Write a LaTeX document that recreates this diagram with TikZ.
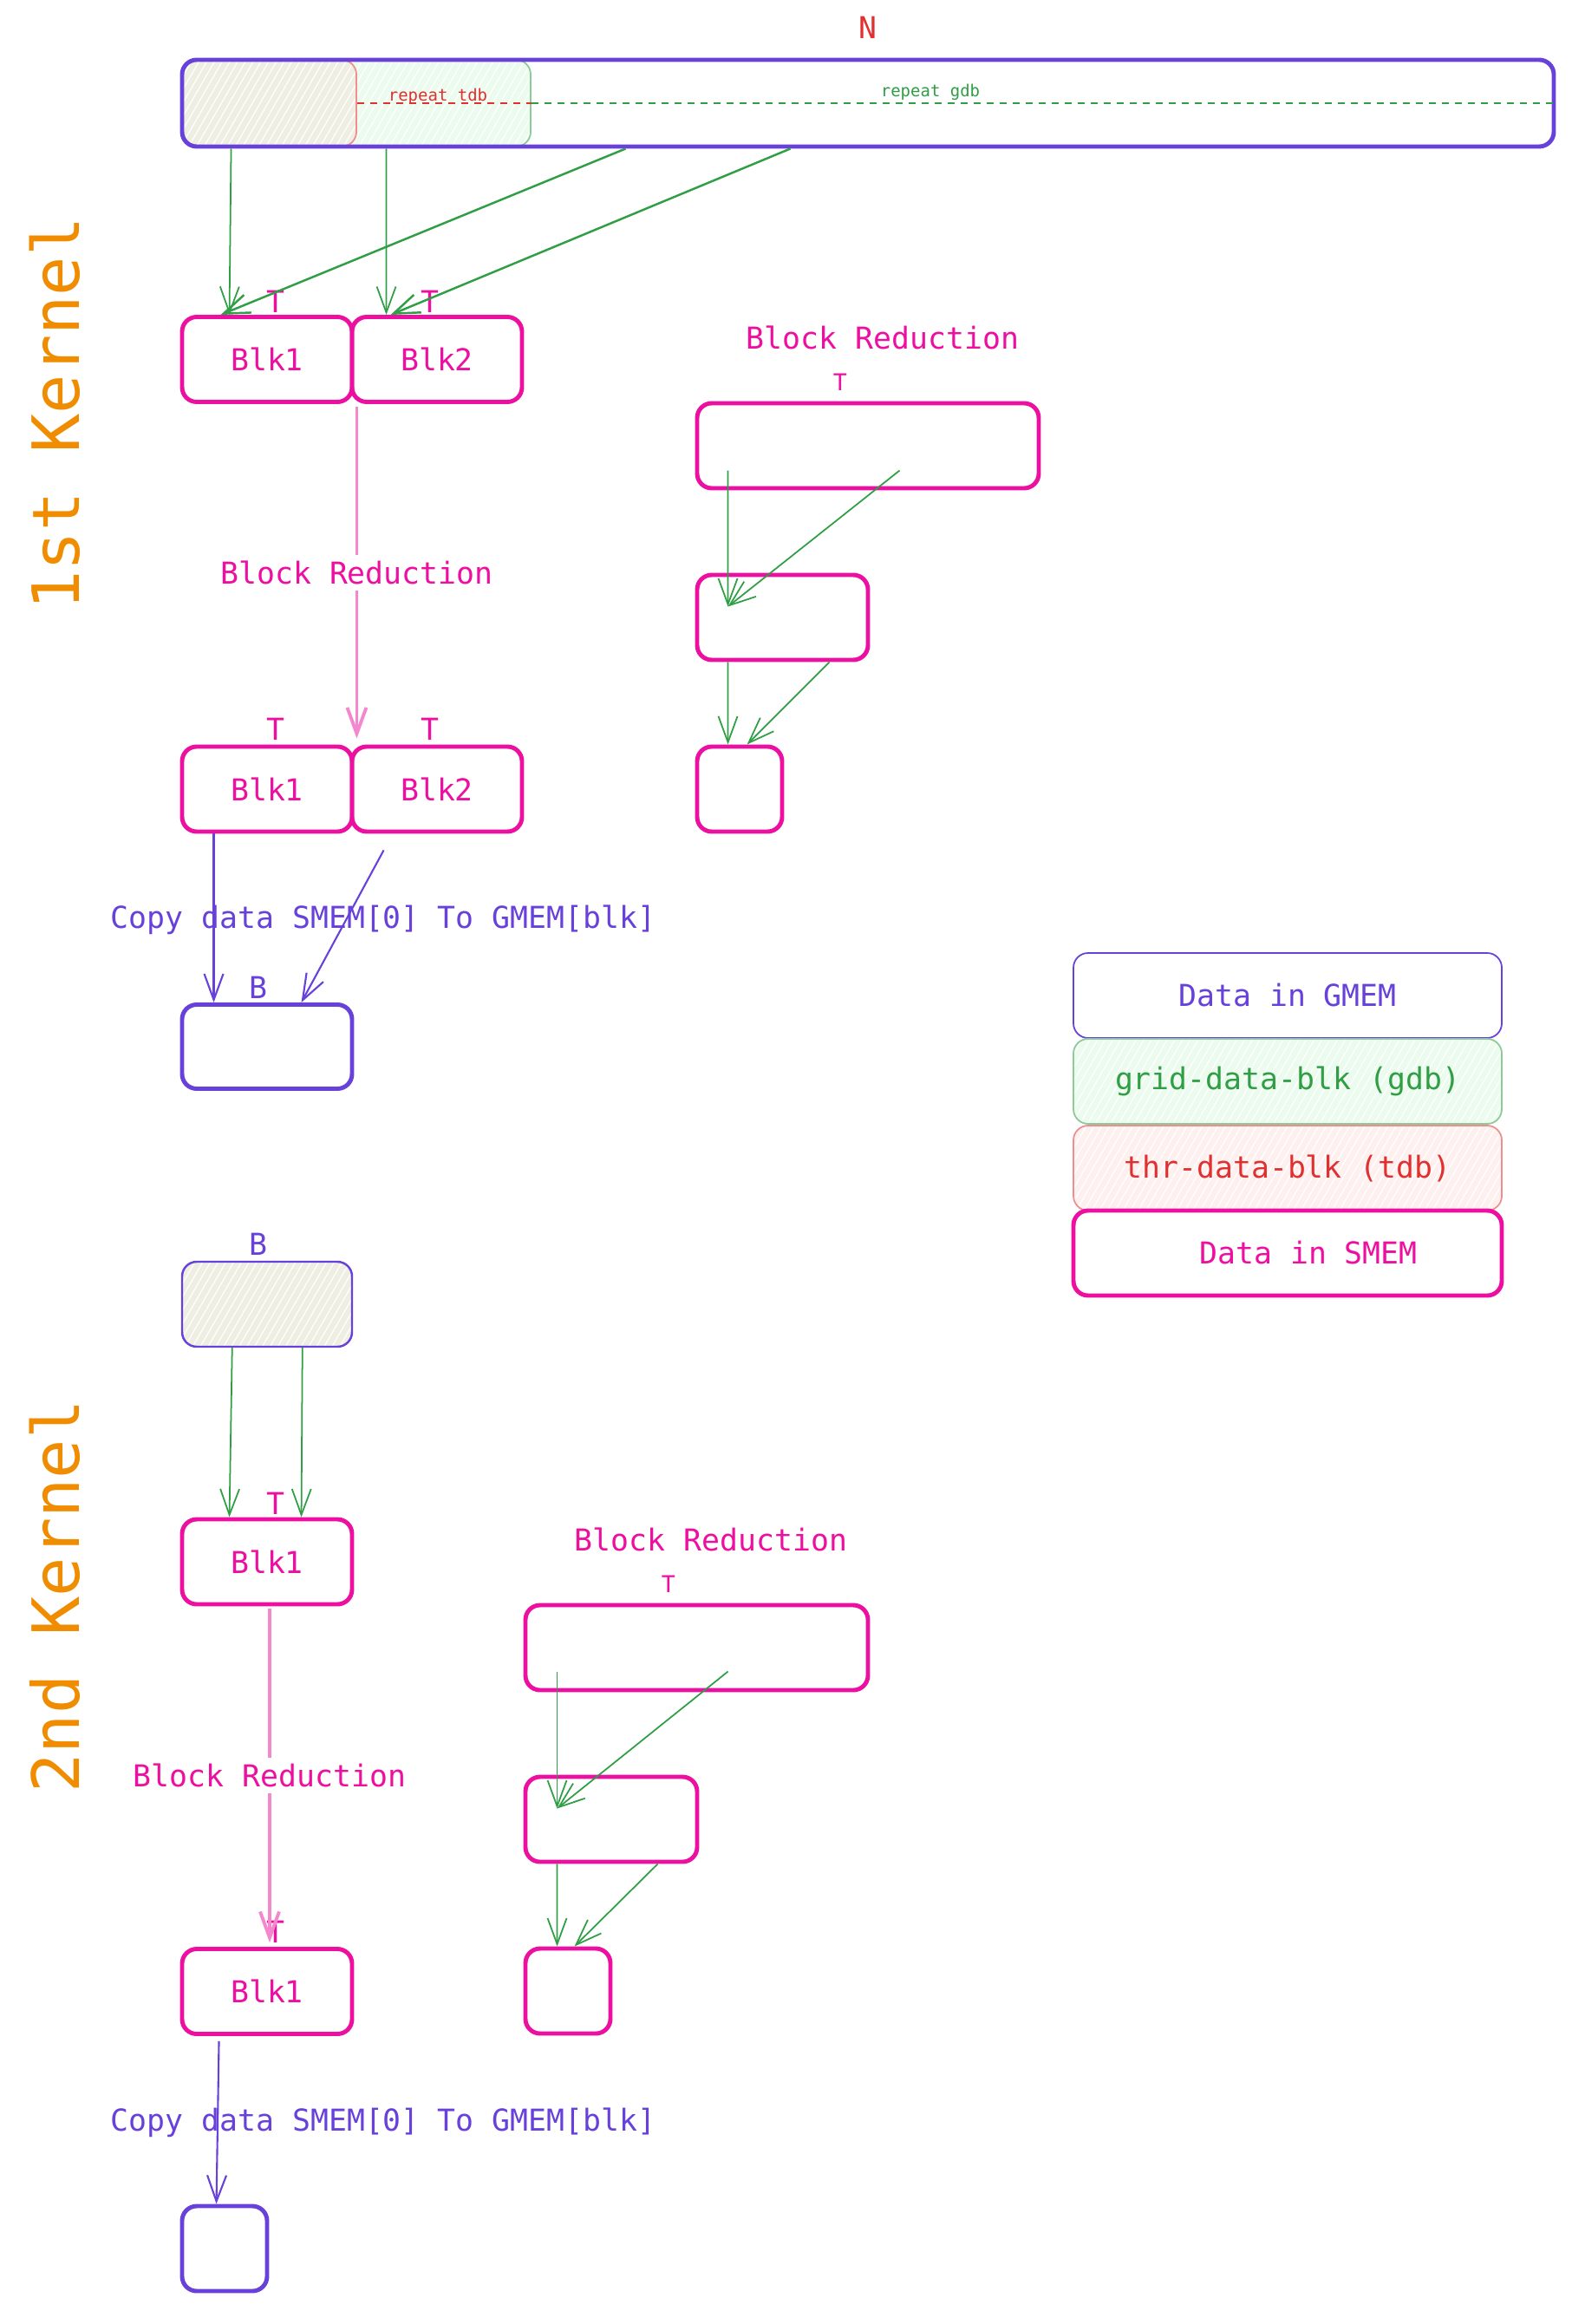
\documentclass[tikz,border=0pt]{standalone}
\usepackage{fontspec}
\setmainfont{DejaVu Sans Mono}
\usetikzlibrary{arrows.meta,positioning,calc,patterns.meta}

\definecolor{gmemc}{HTML}{6741D9}
\definecolor{smemc}{HTML}{EC0FA0}
\definecolor{grnc}{HTML}{2F9E44}
\definecolor{redc}{HTML}{E03131}
\definecolor{orangec}{HTML}{F08C00}
\definecolor{gdbfill}{HTML}{EBFBEE}
\definecolor{tdbfill}{HTML}{FFF0F0}
\definecolor{srcfill}{HTML}{EFEEE3}

\newcommand{\lblfont}{\fontsize{9.9}{12}\selectfont}
\newcommand{\smallfont}{\fontsize{5.4}{7}\selectfont}
\newcommand{\tfont}{\fontsize{7.6}{9}\selectfont}
\newcommand{\kernfont}{\fontsize{21.4}{24}\selectfont}

\tikzset{
  box/.style={rounded corners=4.8pt, minimum height=0.98cm, inner sep=0pt},
  smemblk/.style={box, draw=smemc, line width=1.4pt, text=smemc},
  gmemblk/.style={box, draw=gmemc, line width=1.4pt, text=gmemc},
  hatch/.style={preaction={fill=#1}, preaction={pattern={Lines[angle=60,distance=2.2pt,line width=0.35pt]}, pattern color=white}},
  gdbblk/.style={box, draw=grnc!55, line width=0.5pt, hatch=gdbfill, text=grnc},
  tdbblk/.style={box, draw=redc!55, line width=0.5pt, hatch=tdbfill, text=redc},
  kernel/.style={rotate=90, text=orangec, font=\kernfont},
  tlbl/.style={text=smemc, anchor=base, inner sep=0pt},
  garrow/.style={->, draw=grnc, line width=0.5pt},
  parrow/.style={->, draw=gmemc, line width=0.6pt},
  redarrow/.style={->, draw=smemc!50, line width=1.1pt},
}

\begin{document}
\begin{tikzpicture}[
    >={Straight Barb[length=3mm,width=2.2mm]},
    every node/.style={font=\lblfont},
  ]
  \useasboundingbox (0,0) rectangle (18.27,-26.80);

  % ---- 1st Kernel ----
  \node[kernel] (k1) at (0.63,-4.77) {1st Kernel};
  \node[text=redc] (n) at (10.01,-0.32) {N};

  % whole input in GMEM
  \node[gdbblk, minimum width=4.02cm, minimum height=1cm] (gdb) at (4.11,-1.19) {};
  \node[box, draw=redc!55, line width=0.5pt, hatch=srcfill, minimum width=2.01cm, minimum height=1cm] (tdb) at (3.105,-1.19) {};
  \node[gmemblk, minimum width=15.82cm, minimum height=1cm] (gbar) at (10.01,-1.19) {};
  \draw[redc, line width=0.5pt, dash pattern=on 0.8mm off 0.7mm] (tdb.east) -- (gdb.east);
  \draw[grnc, line width=0.5pt, dash pattern=on 0.8mm off 0.7mm] (gdb.east) -- (gbar.east);
  \node[text=redc, font=\smallfont, anchor=base] (rtdb) at (5.05,-1.17) {repeat tdb};
  \node[text=grnc, font=\smallfont, anchor=base] (rgdb) at (10.73,-1.12) {repeat gdb};

  % blocks in SMEM
  \node[smemblk, minimum width=1.96cm] (blk1a) at (3.08,-4.145) {Blk1};
  \node[smemblk, minimum width=1.96cm] (blk2a) at (5.04,-4.145) {Blk2};
  \node[tlbl] (t1a) at (3.18,-3.61) {T};
  \node[tlbl] (t2a) at (4.96,-3.61) {T};

  \draw[garrow] ([xshift=0.59cm]gbar.south west) -- ([xshift=0.57cm]blk1a.north west);
  \draw[garrow] ([xshift=2.38cm]gbar.south west) -- ([xshift=0.42cm]blk2a.north west);
  \draw[garrow, line width=0.7pt] ([xshift=5.14cm]gbar.south west) -- ([xshift=0.47cm]blk1a.north west);
  \draw[garrow, line width=0.7pt] ([xshift=7.04cm]gbar.south west) -- ([xshift=0.47cm]blk2a.north west);

  % reduction inside a block
  \node[text=smemc] (bra) at (10.18,-3.89) {Block Reduction};
  \node[tlbl, font=\tfont] (tra) at (9.69,-4.51) {T};
  \node[smemblk, minimum width=3.94cm] (reda) at (10.01,-5.14) {};
  \node[smemblk, minimum width=1.97cm] (redb) at (9.025,-7.12) {};
  \node[smemblk, minimum width=0.98cm] (redc) at (8.53,-9.10) {};
  \draw[garrow] ([shift={(0.38,-0.80)}]reda.north west) -- ([shift={(0.38,-0.39)}]redb.north west);
  \draw[garrow] ([shift={(2.36,-0.80)}]reda.north west) -- ([shift={(0.38,-0.39)}]redb.north west);
  \draw[garrow] ([xshift=0.38cm]redb.south west) -- ([xshift=0.38cm]redc.north west);
  \draw[garrow] ([xshift=1.55cm]redb.south west) -- ([xshift=0.60cm]redc.north west);

  % after block reduction
  \node[smemblk, minimum width=1.96cm] (blk1b) at (3.08,-9.10) {Blk1};
  \node[smemblk, minimum width=1.96cm] (blk2b) at (5.04,-9.10) {Blk2};
  \node[tlbl] (t1b) at (3.18,-8.54) {T};
  \node[tlbl] (t2b) at (4.96,-8.54) {T};
  \draw[redarrow] ([shift={(0.03,-0.03)}]blk1a.south east) --
    node[fill=white, text=smemc, inner sep=2pt] (brl) {Block Reduction}
    ([shift={(0.03,0.07)}]blk1b.north east);

  % copy back to GMEM
  \node[text=gmemc] (cpa) at (4.42,-10.61) {Copy data SMEM[0] To GMEM[blk]};
  \node[gmemblk, minimum width=1.96cm, minimum height=0.97cm] (resa) at (3.08,-12.07) {};
  \node[tlbl, text=gmemc] (ba) at (2.98,-11.51) {B};
  \draw[parrow] ([xshift=0.39cm]blk1b.south west) -- ([xshift=0.39cm]resa.north west);
  \draw[parrow] ([shift={(0.39,-0.19)}]blk2b.south west) -- ([xshift=1.40cm]resa.north west);

  % ---- legend ----
  \node[gmemblk, line width=0.5pt, minimum width=4.94cm] (lgmem) at (14.85,-11.48) {Data in GMEM};
  \node[gdbblk, minimum width=4.94cm] (lgdb) at (14.85,-12.47) {grid-data-blk (gdb)};
  \node[tdbblk, minimum width=4.94cm] (ltdb) at (14.85,-13.47) {thr-data-blk (tdb)};
  \node[smemblk, minimum width=4.94cm] (lsmem) at (14.85,-14.45) {\hspace*{0.48cm}Data in SMEM};

  % ---- 2nd Kernel ----
  \node[kernel] (k2) at (0.63,-18.41) {2nd Kernel};

  \node[box, draw=gmemc, line width=0.7pt, hatch=srcfill, minimum width=1.96cm] (srcb) at (3.08,-15.04) {};
  \node[tlbl, text=gmemc] (bb) at (2.98,-14.47) {B};
  \node[smemblk, minimum width=1.96cm] (blk1c) at (3.08,-18.01) {Blk1};
  \node[tlbl] (t1c) at (3.18,-17.46) {T};
  \draw[garrow] ([xshift=0.59cm]srcb.south west) -- ([xshift=0.57cm]blk1c.north west);
  \draw[garrow] ([xshift=1.40cm]srcb.south west) -- ([xshift=1.40cm]blk1c.north west);

  \node[text=smemc] (brb) at (8.20,-17.75) {Block Reduction};
  \node[tlbl, font=\tfont] (trb) at (7.71,-18.36) {T};
  \node[smemblk, minimum width=3.95cm] (redd) at (8.035,-19.00) {};
  \node[smemblk, minimum width=1.98cm] (rede) at (7.05,-20.98) {};
  \node[smemblk, minimum width=0.98cm] (redf) at (6.55,-22.96) {};
  \draw[garrow] ([shift={(0.39,-0.79)}]redd.north west) -- ([shift={(0.39,-0.39)}]rede.north west);
  \draw[garrow] ([shift={(2.36,-0.79)}]redd.north west) -- ([shift={(0.39,-0.39)}]rede.north west);
  \draw[garrow] ([xshift=0.39cm]rede.south west) -- ([xshift=0.39cm]redf.north west);
  \draw[garrow] ([xshift=1.55cm]rede.south west) -- ([xshift=0.59cm]redf.north west);

  \node[smemblk, minimum width=1.96cm] (blk1d) at (3.08,-22.965) {Blk1};
  \node[tlbl] (t1d) at (3.18,-22.40) {T};
  \draw[redarrow] ([shift={(0.03,-0.03)}]blk1c.south) --
    node[fill=white, text=smemc, inner sep=2pt] (brl2) {Block Reduction}
    ([shift={(0.03,0.05)}]blk1d.north);

  \node[text=gmemc] (cpb) at (4.42,-24.48) {Copy data SMEM[0] To GMEM[blk]};
  \node[gmemblk, minimum width=0.98cm] (resb) at (2.59,-25.93) {};
  \draw[parrow] ([shift={(0.45,-0.06)}]blk1d.south west) -- ([xshift=0.42cm]resb.north west);
\end{tikzpicture}
\end{document}
